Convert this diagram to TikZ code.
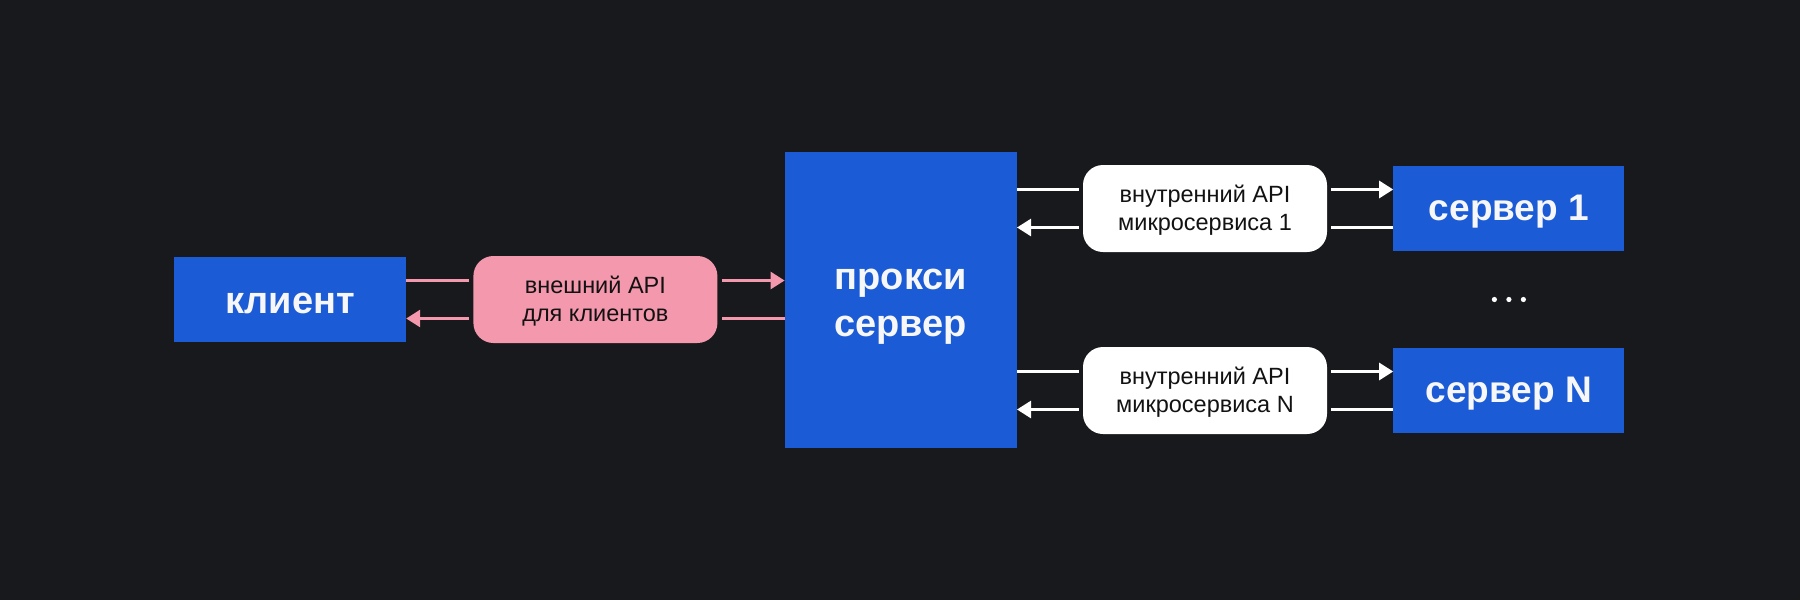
\documentclass[tikz,border=0pt]{standalone}
\usepackage{fontspec}
\setmainfont{Liberation Sans}
\usepackage{tikz}
\usetikzlibrary{arrows.meta, positioning, calc}
\definecolor{bgdark}{HTML}{18191C}
\definecolor{srvblue}{HTML}{1B5BD6}
\definecolor{extpink}{HTML}{F498AE}
\definecolor{intwhite}{HTML}{FFFFFF}
\definecolor{txtlight}{HTML}{F7F7F7}
\definecolor{txtdark}{HTML}{121212}

\begin{document}
\begin{tikzpicture}[
    x=1pt, y=-1pt,
    srvbox/.style={rectangle, fill=srvblue, text=txtlight, inner sep=0pt, align=center,
      text height=28.5pt, text depth=0pt, font=\fontsize{38}{46.7}\selectfont\bfseries},
    apibox/.style={rectangle, rounded corners=20pt, inner sep=0pt, align=center,
      minimum width=244pt, minimum height=87pt, text=txtdark, text height=43pt, text depth=0pt,
      font=\fontsize{23.5}{27.7}\selectfont},
    pinkline/.style={line width=2.7pt, extpink},
    whiteline/.style={line width=2.7pt, intwhite},
    tip/.style={-{Triangle[length=14pt, width=17pt]}}
  ]
    \fill[bgdark] (0,0) rectangle (1800,600);

    \node[srvbox, minimum width=232pt, minimum height=85pt] (client) at (290,299.5) {клиент};
    \node[apibox, fill=extpink, right=67pt of client] (extapi) {внешний API\\для клиентов};
    \node[srvbox, minimum width=232pt, minimum height=296pt, text height=73.4pt,
      right=67pt of extapi] (proxy) {прокси\\сервер};

    \node[apibox, fill=intwhite] (intapiA) at (1205,208.5) {внутренний API\\микросервиса 1};
    \node[srvbox, minimum width=231pt, minimum height=85pt, text height=24pt,
      font=\fontsize{37}{44}\selectfont\bfseries, right=66pt of intapiA] (servA) {сервер 1};
    \node[apibox, fill=intwhite] (intapiN) at (1205,390.5) {внутренний API\\микросервиса N};
    \node[srvbox, minimum width=231pt, minimum height=85pt, text height=24pt,
      font=\fontsize{37}{44}\selectfont\bfseries, right=66pt of intapiN] (servN) {сервер N};

    \draw[pinkline, shorten >=4pt] ([yshift=19pt]client.east) -- ([yshift=19pt]extapi.west);
    \draw[pinkline, tip, shorten <=4pt] ([yshift=-19pt]extapi.west) -- ([yshift=-19pt]client.east);
    \coordinate (extHi) at ([yshift=19pt]extapi.east);
    \coordinate (extLo) at ([yshift=-19pt]extapi.east);
    \draw[pinkline, tip, shorten <=4pt] (extHi) -- (extHi -| proxy.west);
    \draw[pinkline, shorten >=4pt] (extLo -| proxy.west) -- (extLo);

    \foreach \api/\srv in {intapiA/servA, intapiN/servN} {
      \coordinate (\api-wHi) at ([yshift=19pt]\api.west);
      \coordinate (\api-wLo) at ([yshift=-19pt]\api.west);
      \coordinate (\api-eHi) at ([yshift=19pt]\api.east);
      \coordinate (\api-eLo) at ([yshift=-19pt]\api.east);
      \draw[whiteline, shorten >=4pt] (\api-wHi -| proxy.east) -- (\api-wHi);
      \draw[whiteline, tip, shorten <=4pt] (\api-wLo) -- (\api-wLo -| proxy.east);
      \draw[whiteline, tip, shorten <=4pt] (\api-eHi) -- (\api-eHi -| \srv.west);
      \draw[whiteline, shorten >=4pt] (\api-eLo -| \srv.west) -- (\api-eLo);
    }

    \coordinate (dots) at ($(servA.center)!0.5!(servN.center)$);
    \foreach \dx in {-14.5, 0, 14.5}
      \fill[intwhite] ([xshift=\dx pt]dots) circle (2.6pt);
  \end{tikzpicture}
\end{document}
